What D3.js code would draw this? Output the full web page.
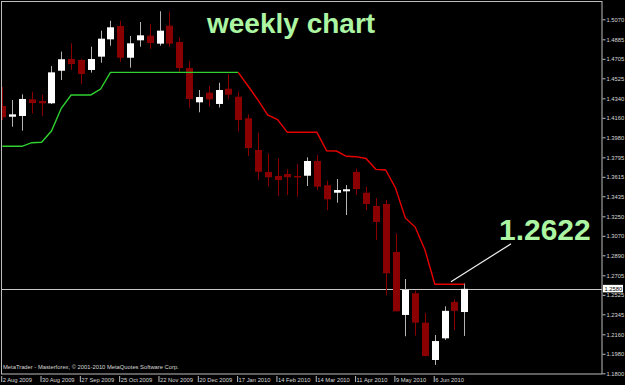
<!DOCTYPE html>
<html><head><meta charset="utf-8">
<script src="https://cdn.jsdelivr.net/npm/d3@7"></script>
<style>html,body{margin:0;padding:0;background:#000;overflow:hidden}</style>
</head><body>
<svg id="c" width="625" height="385"></svg>
<script>
// ---------- data (EUR/USD weekly) ----------
const firstWeek = "2009-08-02";
const openP  = [1.4269,1.4170,1.4177,1.4331,1.4315,1.4294,1.4595,1.4703,1.4694,1.4602,1.4725,1.4885,1.5008,1.4715,1.4876,1.4919,1.4845,1.5011,1.4860,1.4620,1.4303,1.4392,1.4288,1.4429,1.4355,1.4156,1.3863,1.3660,1.3623,1.3641,1.3623,1.3625,1.3761,1.3537,1.3468,1.3481,1.3660,1.3468,1.3345,1.3364,1.2921,1.2339,1.2539,1.2268,1.1923,1.2123,1.2459,1.2366];
const highP  = [1.4445,1.4325,1.4377,1.4401,1.4374,1.4639,1.4771,1.4848,1.4703,1.4817,1.4965,1.5057,1.5057,1.4916,1.5045,1.5024,1.5144,1.5140,1.4904,1.4685,1.4417,1.4454,1.4484,1.4565,1.4401,1.4192,1.4023,1.3832,1.3786,1.3684,1.3733,1.3795,1.3817,1.3579,1.3595,1.3539,1.3690,1.3524,1.3419,1.3401,1.3093,1.2671,1.2565,1.2357,1.2154,1.2419,1.2482,1.2630];
const lowP   = [1.4140,1.4078,1.4041,1.4200,1.4177,1.4288,1.4509,1.4602,1.4472,1.4577,1.4669,1.4826,1.4678,1.4623,1.4817,1.4796,1.4826,1.4817,1.4586,1.4253,1.4211,1.4263,1.4255,1.4332,1.4032,1.3807,1.3586,1.3524,1.3438,1.3447,1.3431,1.3530,1.3493,1.3308,1.3376,1.3262,1.3447,1.3308,1.3031,1.2523,1.2373,1.2142,1.2149,1.1955,1.1877,1.2108,1.2200,1.2145];
const closeP = [1.4165,1.4192,1.4334,1.4297,1.4294,1.4580,1.4701,1.4657,1.4565,1.4703,1.4891,1.4996,1.4715,1.4848,1.4922,1.4851,1.4965,1.4845,1.4620,1.4334,1.4352,1.4331,1.4417,1.4374,1.4140,1.3881,1.3662,1.3611,1.3586,1.3611,1.3616,1.3761,1.3524,1.3407,1.3493,1.3500,1.3502,1.3364,1.3198,1.2724,1.2373,1.2570,1.2268,1.1960,1.2098,1.2377,1.2377,1.2580];
// trailing stop: support (green) while up-trend, resistance (red) while down-trend
const supportLine = [1.3897,1.3897,1.3897,1.3930,1.3934,1.4038,1.4248,1.4371,1.4371,1.4371,1.4426,1.4580,1.4580,1.4580,1.4580,1.4580,1.4580,1.4580,1.4580,1.4580,1.4580,1.4580,1.4580,1.4580,1.4580,null,null,null,null,null,null,null,null,null,null,null,null,null,null,null,null,null,null,null,null,null,null,null];
const resistLine  = [null,null,null,null,null,null,null,null,null,null,null,null,null,null,null,null,null,null,null,null,null,null,null,null,1.4580,1.4454,1.4325,1.4186,1.4144,1.4026,1.4026,1.4026,1.4026,1.3856,1.3853,1.3805,1.3801,1.3784,1.3684,1.3678,1.3512,1.3235,1.3151,1.2939,1.2622,1.2622,1.2622,1.2622];
const priceTicks = [1.5070,1.4885,1.4705,1.4525,1.4340,1.4160,1.3980,1.3795,1.3615,1.3435,1.3250,1.3070,1.2890,1.2705,1.2525,1.2345,1.2160,1.1980,1.1800];
const dateTicks = ["2 Aug 2009","30 Aug 2009","27 Sep 2009","25 Oct 2009","22 Nov 2009","20 Dec 2009","17 Jan 2010","14 Feb 2010","14 Mar 2010","11 Apr 2010","9 May 2010","6 Jun 2010"];
const lastPrice = 1.2580;
const stopLevel = 1.2622;
const titleText = "weekly chart";
const copyrightText = "MetaTrader - Masterforex, \u00a9 2001-2010 MetaQuotes Software Corp.";

// ---------- build ----------
const parseDay = d3.utcParse("%Y-%m-%d");
const start = parseDay(firstWeek);
const weeks = openP.map((_, i) => d3.utcWeek.offset(start, i));
const bars = weeks.map((d, i) => ({date: d, o: openP[i], h: highP[i], l: lowP[i], c: closeP[i]}));

const svg = d3.select("#c");
const W = 625, H = 385;
const plot = {l: 2, t: 2, r: 602, b: 374};

svg.append("rect").attr("width", W).attr("height", H).attr("fill", "#000");

const x = d3.scaleUtc().domain([weeks[0], weeks[weeks.length - 1]]).range([2.3, 2.3 + 9.83 * (weeks.length - 1)]);
const y = d3.scaleLinear().domain([1.1800, 1.5070]).range([373.3, 19.3]);

svg.append("defs").append("clipPath").attr("id", "pc")
  .append("rect").attr("x", plot.l).attr("y", plot.t).attr("width", plot.r - plot.l).attr("height", plot.b - plot.t);

const g = svg.append("g").attr("clip-path", "url(#pc)");

// last price line
g.append("line").attr("x1", plot.l).attr("x2", plot.r)
  .attr("y1", Math.round(y(lastPrice)) + 0.5).attr("y2", Math.round(y(lastPrice)) + 0.5)
  .attr("stroke", "#c8c8c8").attr("stroke-width", 1);

// candles
const bw = 7;
const cg = g.append("g");
cg.selectAll("line.wick").data(bars).join("line").attr("class", "wick")
  .attr("x1", d => Math.round(x(d.date)) + 0.5).attr("x2", d => Math.round(x(d.date)) + 0.5)
  .attr("y1", d => y(d.h)).attr("y2", d => y(d.l))
  .attr("stroke", d => d.c >= d.o ? "#b4b4b4" : "#8a0000").attr("stroke-width", 1);
cg.selectAll("rect.body").data(bars).join("rect").attr("class", "body")
  .attr("x", d => Math.round(x(d.date)) - 3)
  .attr("width", bw)
  .attr("y", d => y(Math.max(d.o, d.c)))
  .attr("height", d => Math.max(1.5, Math.abs(y(d.o) - y(d.c))))
  .attr("fill", d => d.c >= d.o ? "#ffffff" : "#8a0000");

// trailing stop lines
const line = d3.line().defined(d => d.v != null).x(d => x(d.date)).y(d => y(d.v));
g.append("path").datum(weeks.map((d, i) => ({date: d, v: supportLine[i]})))
  .attr("d", line).attr("fill", "none").attr("stroke", "#2fd02f").attr("stroke-width", 1.4);
g.append("path").datum(weeks.map((d, i) => ({date: d, v: resistLine[i]})))
  .attr("d", line).attr("fill", "none").attr("stroke", "#e80000").attr("stroke-width", 1.4);

// frame
svg.append("rect").attr("x", 1.5).attr("y", 1.5).attr("width", plot.r - 1.5).attr("height", plot.b - 1.5)
  .attr("fill", "none").attr("stroke", "#bdbdbd").attr("stroke-width", 1);

// price axis
const yAxis = d3.axisRight(y).tickValues(priceTicks).tickFormat(d3.format(".4f")).tickSize(3).tickPadding(1);
const ya = svg.append("g").attr("transform", `translate(${plot.r + 0.5},0)`).call(yAxis);
ya.select(".domain").remove();
ya.selectAll("line").attr("stroke", "#bdbdbd");
ya.selectAll("text").attr("fill", "#d8d8d8").style("font-family", "'Liberation Sans', Arial, sans-serif").style("font-size", "5.8px");

// last price box
const lp = svg.append("g").attr("transform", `translate(603,${y(lastPrice)})`);
lp.append("rect").attr("x", 0).attr("y", -4).attr("width", 20).attr("height", 7.5).attr("fill", "#fff");
lp.append("text").attr("x", 1.5).attr("y", 2.2).text(d3.format(".4f")(lastPrice))
  .attr("fill", "#000").style("font-family", "'Liberation Sans', Arial, sans-serif").style("font-size", "5.8px");

// time axis
const parseTick = d3.utcParse("%e %b %Y");
const tickDates = dateTicks.map(s => parseTick(s));
const xAxis = d3.axisBottom(x).tickValues(tickDates).tickFormat(d3.utcFormat("%-d %b %Y")).tickSize(0).tickPadding(0);
const xa = svg.append("g").attr("transform", `translate(-1.6,${plot.b})`).call(xAxis);
xa.select(".domain").remove();
xa.selectAll(".tick").append("line").attr("x1", 0.5).attr("x2", 0.5).attr("y1", 2).attr("y2", 8).attr("stroke", "#bdbdbd");
xa.selectAll("text").attr("fill", "#d8d8d8").attr("text-anchor", "start").attr("x", 1.5).attr("y", 8).attr("dy", 0)
  .style("font-family", "'Liberation Sans', Arial, sans-serif").style("font-size", "5.8px");

// copyright
svg.append("text").attr("x", 3).attr("y", 369).text(copyrightText)
  .attr("fill", "#d8d8d8").style("font-family", "'Liberation Sans', Arial, sans-serif").style("font-size", "5.8px");

// title
svg.append("text").attr("x", 207).attr("y", 33).text(titleText)
  .attr("fill", "#acf5a2").style("font-family", "'Liberation Sans', Arial, sans-serif")
  .style("font-weight", "bold").style("font-size", "28px");

// annotation
const a0 = [x(weeks[46]) - 3.5, y(stopLevel) - 2.5];
const a1 = [a0[0] + 60, a0[1] - 38];
svg.append("line").attr("x1", a0[0]).attr("y1", a0[1]).attr("x2", a1[0]).attr("y2", a1[1])
  .attr("stroke", "#f0f0f0").attr("stroke-width", 1.2);
svg.append("text").attr("x", a1[0] - 12).attr("y", a1[1] - 4).text(d3.format(".4f")(stopLevel))
  .attr("fill", "#acf5a2").style("font-family", "'Liberation Sans', Arial, sans-serif")
  .style("font-weight", "bold").style("font-size", "30px");
</script>
</body></html>
